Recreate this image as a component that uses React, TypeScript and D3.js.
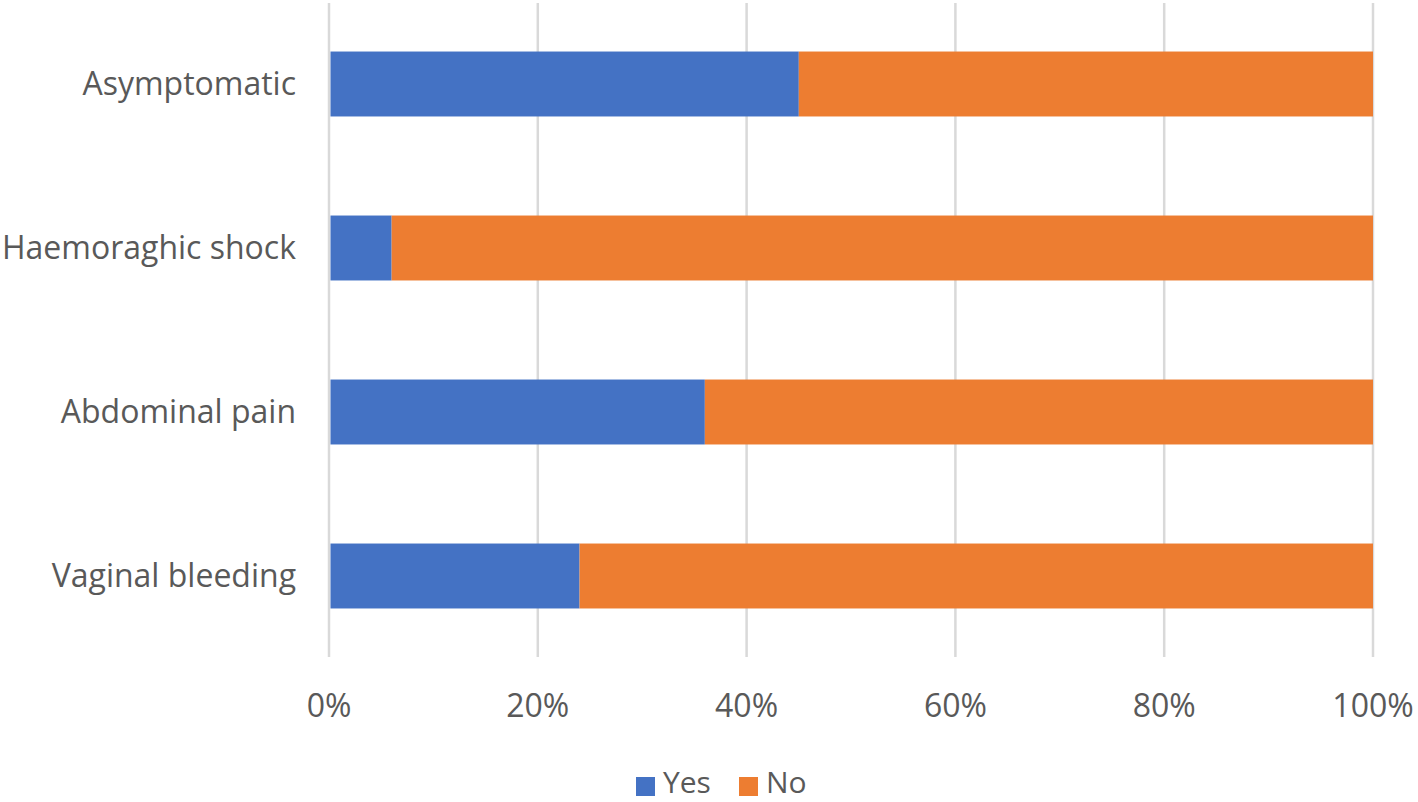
import React from "react";
import * as d3 from "d3";

const categories = ["Asymptomatic", "Haemoraghic shock", "Abdominal pain", "Vaginal bleeding"];
const yesValues = [45, 6, 36, 24];
const noValues = [55, 94, 64, 76];
const seriesNames = ["Yes", "No"];
const seriesColors = ["#4472C4", "#ED7D31"];
const xTicks = [0, 20, 40, 60, 80, 100];

const W = 1418;
const H = 802;
const FONT = "'Open Sans', 'Noto Sans', sans-serif";

export default function App() {
  const x = d3.scaleLinear().domain([0, 100]).range([329, 1373]);
  const y = d3.scaleBand().domain(categories).range([2, 658]).paddingInner(0.604).paddingOuter(0.302);
  const stacked = categories.map((c, i) => {
    const vals = [yesValues[i], noValues[i]];
    let acc = 0;
    return vals.map((v, k) => {
      const s = acc;
      acc += v;
      return { c, k, x0: s, x1: acc };
    });
  });
  return (
    <svg width={W} height={H} style={{ position: "absolute", left: 0, top: 0, background: "#fff" }}>
      <rect width={W} height={H} fill="#fff" />
      {xTicks.map((t) => (
        <line key={t} x1={x(t)} x2={x(t)} y1={3} y2={657} stroke="#D9D9D9" strokeWidth={2.5} />
      ))}
      {stacked.flat().map((d) => (
        <rect
          key={d.c + d.k}
          x={x(d.x0) + (d.k === 0 ? 1.5 : 0)}
          width={x(d.x1) - x(d.x0) - (d.k === 0 ? 1.5 : 0)}
          y={y(d.c)!}
          height={y.bandwidth()}
          fill={seriesColors[d.k]}
        />
      ))}
      {categories.map((c) => (
        <text
          key={c}
          x={296}
          y={y(c)! + y.bandwidth() / 2}
          dy="0.35em"
          textAnchor="end"
          fontFamily={FONT}
          fontSize={32}
          fill="#595959"
        >
          {c}
        </text>
      ))}
      {xTicks.map((t) => (
        <text key={t} x={x(t)} y={717} textAnchor="middle" fontFamily={FONT} fontSize={32} fill="#595959">
          {t + "%"}
        </text>
      ))}
      {seriesNames.map((s, i) => {
        const lx = i === 0 ? 636 : 739;
        return (
          <g key={s}>
            <rect x={lx} y={777} width={19} height={19} fill={seriesColors[i]} />
            <text x={lx + 27} y={793} fontFamily={FONT} fontSize={30} fill="#595959">
              {s}
            </text>
          </g>
        );
      })}
    </svg>
  );
}
